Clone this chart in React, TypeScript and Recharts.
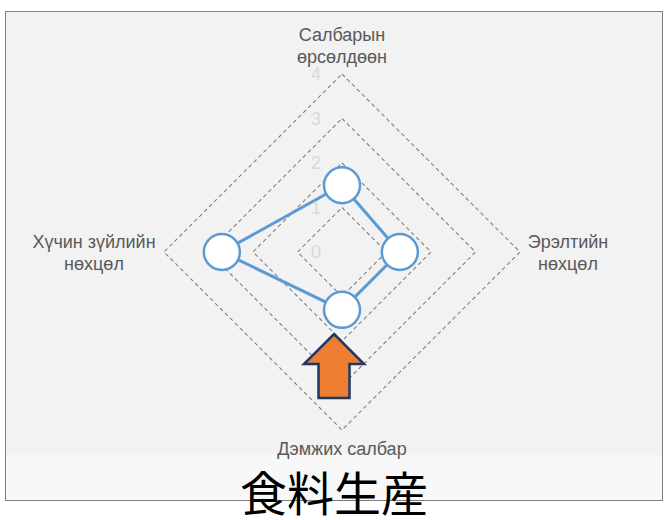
import { PolarAngleAxis, PolarGrid, PolarRadiusAxis, Radar, RadarChart } from "recharts";

const categories = [
  "Салбарын\nөрсөлдөөн",
  "Эрэлтийн\nнөхцөл",
  "Дэмжих салбар",
  "Хүчин зүйлийн\nнөхцөл"
];
const scores = [1.5, 1.3, 1.3, 2.7];
const radiusTicks = [0, 1, 2, 3, 4];
const title = "食料生産";

const data = categories.map((name, i) => ({ name, score: scores[i] }));

const labelFont = "'Liberation Sans', Arial, sans-serif";

// per-direction label placement, relative to the tick point recharts gives us
const labelOffsets = [
  { dx: 0, dy: -25 },
  { dx: 40, dy: -4 },
  { dx: 0, dy: 17 },
  { dx: -62, dy: -4 }
];

function AngleTick(props: any) {
  const { x, y, payload, index } = props;
  const lines = String(payload.value).split("\n");
  const off = labelOffsets[index] ?? { dx: 0, dy: 0 };
  return (
    <text
      x={x + off.dx}
      y={y + off.dy}
      textAnchor="middle"
      fill="#595959"
      fontSize={18}
      fontFamily={labelFont}
    >
      {lines.map((line, i) => (
        <tspan key={i} x={x + off.dx} dy={i === 0 ? 0 : 22}>
          {line}
        </tspan>
      ))}
    </text>
  );
}

function RadiusTick(props: any) {
  const { x, y, payload } = props;
  return (
    <text
      x={x - 26}
      y={y}
      dy="0.35em"
      textAnchor="middle"
      fill="#d9d9d9"
      fontSize={18}
      fontFamily={labelFont}
    >
      {payload.value}
    </text>
  );
}

export default function App() {
  return (
    <div style={{ position: "absolute", left: 0, top: 0, width: 667, height: 520, background: "#fff" }}>
      <div
        style={{
          position: "absolute",
          left: 5,
          top: 11,
          width: 656,
          height: 488,
          background: "#f2f2f2",
          border: "1px solid #7f7f7f"
        }}
      >
        <div style={{ position: "absolute", left: 0, right: 0, top: 443, bottom: 0, background: "#f8f8f8" }} />
      </div>
      <div style={{ position: "absolute", left: 0, top: 0 }}>
        <RadarChart width={667} height={520} data={data} cx={342} cy={252} outerRadius={178}>
          <PolarGrid gridType="polygon" radialLines={false} stroke="#808080" strokeWidth={1.1} strokeDasharray="4 3" />
          <PolarAngleAxis dataKey="name" tick={AngleTick} tickLine={false} axisLine={false} />
          <PolarRadiusAxis
            angle={90}
            domain={[0, 4]}
            ticks={radiusTicks}
            tick={RadiusTick}
            axisLine={false}
            tickLine={false}
          />
          <Radar
            dataKey="score"
            stroke="#5b9bd5"
            strokeWidth={3}
            fill="none"
            fillOpacity={0}
            dot={{ r: 18, fill: "#ffffff", stroke: "#5b9bd5", strokeWidth: 2.5, fillOpacity: 1 }}
            isAnimationActive={false}
          />
        </RadarChart>
      </div>
      <svg width={667} height={520} style={{ position: "absolute", left: 0, top: 0, pointerEvents: "none" }}>
        <path
          d="M334 334 L364 364 L349.5 364 L349.5 398 L318.5 398 L318.5 364 L304 364 Z"
          fill="#ed7d31"
          stroke="#203864"
          strokeWidth={2.5}
          strokeLinejoin="miter"
        />
        <text
          x={334}
          y={511}
          textAnchor="middle"
          fontSize={47}
          fill="#000"
          fontFamily="'Noto Sans CJK JP', sans-serif"
        >
          {title}
        </text>
      </svg>
    </div>
  );
}
